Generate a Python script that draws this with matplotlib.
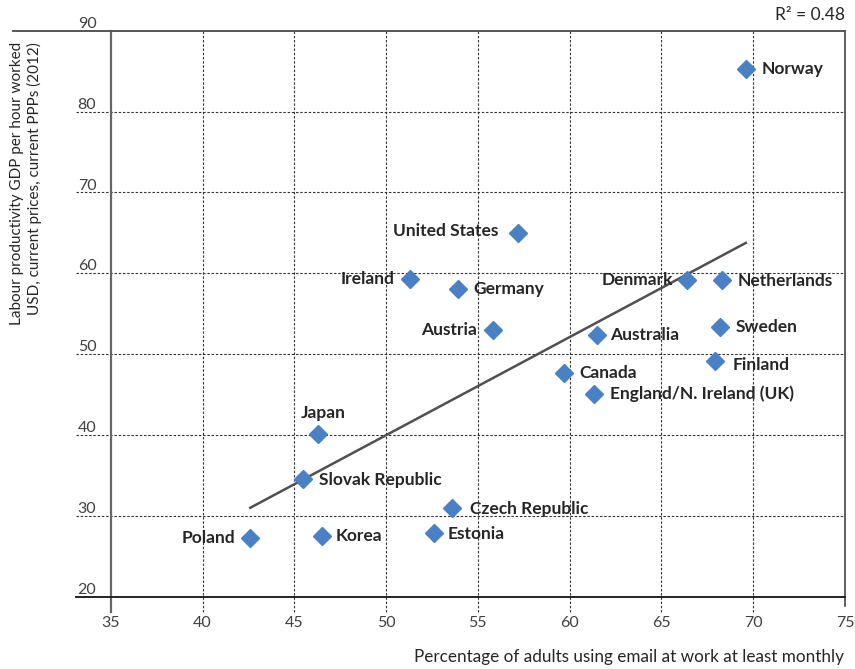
import numpy as np
import matplotlib.pyplot as plt

# data
countries = ['Norway', 'United States', 'Ireland', 'Germany', 'Austria', 'Canada',
             'Denmark', 'Netherlands', 'Australia', 'Sweden', 'Finland',
             'England/N. Ireland (UK)', 'Japan', 'Slovak Republic', 'Czech Republic',
             'Korea', 'Estonia', 'Poland']
email_pct = [69.6, 57.2, 51.3, 53.9, 55.8, 59.7, 66.4, 68.3, 61.5, 68.2, 67.9,
             61.3, 46.3, 45.5, 53.6, 46.5, 52.6, 42.6]
productivity = [85.3, 65.0, 59.3, 58.0, 53.0, 47.7, 59.2, 59.2, 52.4, 53.4, 49.2,
                45.1, 40.1, 34.6, 31.0, 27.5, 27.9, 27.2]
x_ticks = [35, 40, 45, 50, 55, 60, 65, 70, 75]
y_ticks = [20, 30, 40, 50, 60, 70, 80, 90]
r2_text = 'R² = 0.48'
x_title = 'Percentage of adults using email at work at least monthly'
y_title = 'Labour productivity GDP per hour worked\nUSD, current prices, current PPPs (2012)'

# where each label sits relative to its marker (points), and alignment
label_pos = {
    'Norway': (11, 0, 'left'), 'United States': (-14, 1, 'right'),
    'Ireland': (-11, 0, 'right'), 'Germany': (11, 0, 'left'),
    'Austria': (-11, 0, 'right'), 'Canada': (11, 0, 'left'),
    'Denmark': (-10, 0, 'right'), 'Netherlands': (11, -1, 'left'),
    'Australia': (9, 0, 'left'), 'Sweden': (11, 0, 'left'),
    'Finland': (13, -3, 'left'), 'England/N. Ireland (UK)': (12, 0, 'left'),
    'Japan': (4, 15, 'center'), 'Slovak Republic': (11, -1, 'left'),
    'Czech Republic': (13, -1, 'left'), 'Korea': (10, 0, 'left'),
    'Estonia': (10, -1, 'left'), 'Poland': (-11, 0, 'right'),
}

plt.rcParams['font.family'] = ['Lato', 'DejaVu Sans']
tick_col = '#404040'
grid_ls = (0, (2.2, 1.6))

fig = plt.figure(figsize=(8.55, 6.69), dpi=100)
ax = fig.add_axes([0.1295, 0.1081, 0.8588, 0.846])
ax.set_xlim(x_ticks[0], x_ticks[-1])
ax.set_ylim(y_ticks[0], y_ticks[-1])
ax.set_xticks([])
ax.set_yticks([])
for s in ax.spines.values():
    s.set_visible(False)

xt = ax.get_xaxis_transform()
yt = ax.get_yaxis_transform()

# grid lines, running a little outside the plot like ticks
for v in x_ticks[1:-1]:
    ax.plot([v, v], [-0.027, 1], transform=xt, color='#333333', lw=0.8, ls=grid_ls, clip_on=False)
for v in y_ticks[1:-1]:
    ax.plot([-0.047, 1], [v, v], transform=yt, color='#333333', lw=0.8, ls=grid_ls, clip_on=False)

# frame
ax.plot([x_ticks[0]] * 2, [-0.027, 1], transform=xt, color='#666666', lw=1.6, clip_on=False)
ax.plot([x_ticks[-1]] * 2, [-0.016, 1], transform=xt, color='#444444', lw=1.2, clip_on=False)
ax.plot([-0.133, 1], [y_ticks[-1]] * 2, transform=yt, color='#555555', lw=1.4, clip_on=False)
ax.plot([-0.047, 1], [y_ticks[0]] * 2, transform=yt, color='#222222', lw=1.4, clip_on=False)

# tick labels
for v in x_ticks:
    ax.text(v, -0.035, str(v), transform=xt, ha='center', va='top', fontsize=11.5, color=tick_col)
for v in y_ticks:
    ax.annotate(str(v), xy=(-0.045, v), xycoords=yt, xytext=(0, 2), textcoords='offset points',
                ha='left', va='baseline', fontsize=11.5, color=tick_col)

# trend line
coef = np.polyfit(email_pct, productivity, 1)
xs = np.array([min(email_pct), max(email_pct)])
ax.plot(xs, np.polyval(coef, xs), color='#505050', lw=1.8, zorder=2)

# points
ax.plot(email_pct, productivity, 'D', ms=9, color='#4a80c4', mec='#4a80c4', ls='none',
        zorder=3, clip_on=False)

for name, x, y in zip(countries, email_pct, productivity):
    dx, dy, ha = label_pos[name]
    ax.annotate(name, (x, y), xytext=(dx, dy), textcoords='offset points', ha=ha, va='center',
                fontsize=12.5, fontweight='bold', color='#262626', zorder=4)

ax.text(0.998, -0.107, x_title, transform=ax.transAxes, ha='right', va='center',
        fontsize=12.3, color='#262626')
ax.text(1.0, 1.028, r2_text, transform=ax.transAxes, ha='right', va='center',
        fontsize=12.5, color='#262626')
fig.text(0.0304, 0.7257, y_title, rotation=90, ha='center', va='center',
         multialignment='right', fontsize=11, color='#262626')

fig.savefig('out.png', dpi=100)
